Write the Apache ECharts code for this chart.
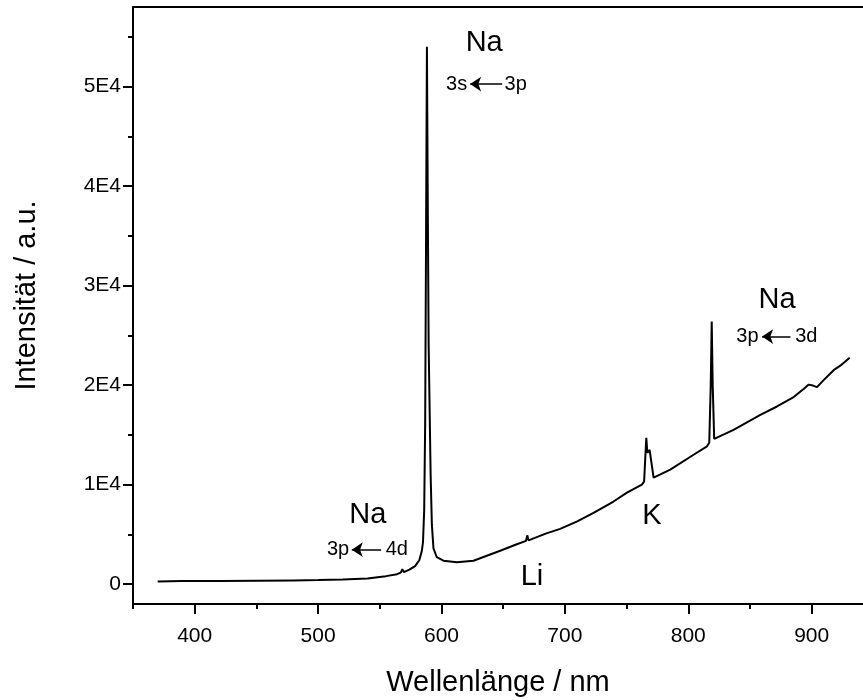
<!DOCTYPE html>
<html>
<head>
<meta charset="utf-8">
<script src="https://cdn.jsdelivr.net/npm/echarts@6.0.0/dist/echarts.min.js"></script>
<style>
  html, body { margin: 0; padding: 0; background: #fff; }
  #main { width: 863px; height: 700px; }
</style>
</head>
<body>
<div id="main"></div>
<script>
// Spektrum
var wavelength = [370, 380, 390, 400, 420, 450, 480, 500, 520, 540, 555, 564, 567, 568.3, 569.5, 574, 578.6, 582, 584, 585,
  586, 586.8, 587.5, 588.2, 588.9, 589.6, 590.4, 591.2, 592.2, 593.5, 596.2, 601.6, 612.5, 625.9, 647.6, 660, 668.5, 669.5,
  670.5, 672, 685, 696.2, 710, 723.2, 739.4, 750.3, 762.4, 764.2, 765.2, 766.0, 766.8, 767.6, 768.7, 769.8, 771.9, 785.4,
  804.3, 815.2, 817.0, 818.2, 819.0, 819.8, 821.0, 822.0, 836.7, 858.4, 871.9, 885.4, 893.5, 897.6, 901, 904.3, 909.7,
  917.8, 923.2, 930.8]
var intensity = [250, 290, 320, 310, 300, 330, 370, 400, 460, 570, 800, 1000, 1150, 1500, 1200, 1450, 1800, 2400, 3300, 4200,
  7500, 16500, 35000, 54000, 38000, 24000, 17500, 11000, 6000, 3600, 2700, 2350, 2200, 2350, 3350, 3950, 4350, 4900,
  4400, 4500, 5100, 5550, 6300, 7150, 8300, 9200, 10000, 10300, 12800, 14700, 13200, 13200, 13500, 12500, 10700, 11500,
  13000, 13850, 14200, 20000, 26400, 20000, 14600, 14500, 15500, 17000, 17850, 18800, 19600, 20050, 19950, 19800, 20500,
  21500, 21950, 22750]

var xMajor = [400, 500, 600, 700, 800, 900]
var xMinor = [350, 450, 550, 650, 750, 850]
var yMajor = [0, 10000, 20000, 30000, 40000, 50000]
var yMinor = [5000, 15000, 25000, 35000, 45000, 55000]

// Beschriftungen der Linien
var labelText = ['Na', '3s', '3p', 'Na', '3p', '4d', 'Na', '3p', '3d', 'K', 'Li']
var labelX = [634.6, 612.3, 660.1, 540.3, 516.2, 563.8, 871.9, 847.9, 895.7, 770.6, 673.3]
var labelY = [54370, 50250, 50250, 6980, 3460, 3460, 28560, 24880, 24880, 6810, 750]
var labelBig = [true, false, false, true, false, false, true, false, false, true, true]
// Pfeile: von (tail) nach (head)
var arrowTail = [649.2, 551.1, 882.8]
var arrowHead = [623.2, 527.3, 859.8]
var arrowY = [50250, 3460, 24880]

var font = 'Liberation Sans, Arial, sans-serif'
var chart = echarts.init(document.getElementById('main'))

var spectrum = wavelength.map(function (w, i) { return [w, intensity[i]] })
var labels = labelText.map(function (t, i) {
  return {
    value: [labelX[i], labelY[i]],
    name: t,
    label: { fontSize: labelBig[i] ? 29 : 20 }
  }
})
var arrows = arrowTail.map(function (t, i) {
  return [{ coord: [t, arrowY[i]] }, { coord: [arrowHead[i], arrowY[i]] }]
})

var axisBlack = { show: true, onZero: false, lineStyle: { color: '#000', width: 2 } }

var option = {
  animation: false,
  textStyle: { fontFamily: font },
  grid: {
    left: 133,
    top: 7,
    right: 0,
    bottom: 96,
    outerBoundsMode: 'none'
  },
  xAxis: [{
    type: 'value',
    min: 350,
    max: 941.6,
    position: 'bottom',
    name: 'Wellenlänge / nm',
    nameLocation: 'middle',
    nameGap: 64,
    nameTextStyle: { fontSize: 29, color: '#000', fontFamily: font },
    axisLine: axisBlack,
    axisTick: { show: true, length: 10, customValues: xMajor, lineStyle: { color: '#000', width: 2 } },
    axisLabel: { customValues: xMajor, fontSize: 21, color: '#000', margin: 22, fontFamily: font },
    splitLine: { show: false }
  }, {
    // kleine Striche
    type: 'value',
    min: 350,
    max: 941.6,
    position: 'bottom',
    axisLine: { show: false, onZero: false },
    axisTick: { show: true, length: 5, customValues: xMinor, lineStyle: { color: '#000', width: 2 } },
    axisLabel: { show: false },
    splitLine: { show: false }
  }, {
    // Rahmen oben
    type: 'value',
    min: 350,
    max: 941.6,
    position: 'top',
    axisLine: axisBlack,
    axisTick: { show: false },
    axisLabel: { show: false },
    splitLine: { show: false }
  }],
  yAxis: [{
    type: 'value',
    min: -2000,
    max: 58000,
    position: 'left',
    name: 'Intensität / a.u.',
    nameLocation: 'middle',
    nameGap: 92,
    nameTextStyle: { fontSize: 29, color: '#000', fontFamily: font, padding: [0, 0, 0, 20] },
    axisLine: axisBlack,
    axisTick: { show: true, length: 10, customValues: yMajor, lineStyle: { color: '#000', width: 2 } },
    axisLabel: {
      customValues: yMajor,
      fontSize: 21,
      color: '#000',
      margin: 12,
      fontFamily: font,
      formatter: function (v) { return v === 0 ? '0' : (v / 10000) + 'E4' }
    },
    splitLine: { show: false }
  }, {
    type: 'value',
    min: -2000,
    max: 58000,
    position: 'left',
    axisLine: { show: false, onZero: false },
    axisTick: { show: true, length: 5, customValues: yMinor, lineStyle: { color: '#000', width: 2 } },
    axisLabel: { show: false },
    splitLine: { show: false }
  }],
  series: [{
    type: 'line',
    data: spectrum,
    showSymbol: false,
    symbol: 'none',
    lineStyle: { color: '#000', width: 2 },
    silent: true,
    markLine: {
      silent: true,
      symbol: ['none', 'arrow'],
      symbolSize: 11,
      label: { show: false },
      lineStyle: { color: '#000', width: 1.5, type: 'solid' },
      data: arrows
    }
  }, {
    type: 'scatter',
    data: labels,
    symbolSize: 1,
    itemStyle: { color: 'transparent', opacity: 1 },
    silent: true,
    label: {
      show: true,
      position: 'inside',
      color: '#000',
      opacity: 1,
      fontFamily: font,
      formatter: function (p) { return p.name }
    }
  }]
}

chart.setOption(option)
</script>
</body>
</html>
